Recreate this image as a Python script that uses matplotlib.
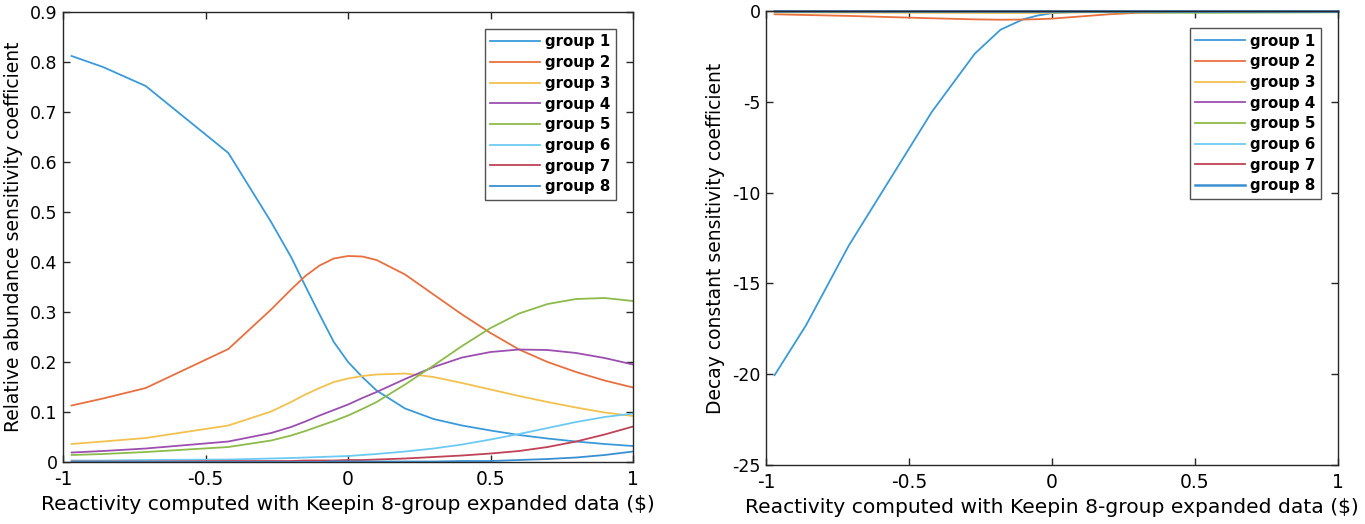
import matplotlib
matplotlib.use("Agg")
import matplotlib.pyplot as plt

plt.rcParams['font.family'] = ['DejaVu Sans']

# ---- relative abundance sensitivity (left panel) ----
x_ab = [-0.97, -0.86, -0.71, -0.42, -0.27, -0.2, -0.15, -0.1, -0.05, 0.0,
        0.05, 0.1, 0.2, 0.3, 0.4, 0.5, 0.6, 0.7, 0.8, 0.9, 1.0]
ab_g1 = [0.812, 0.790, 0.752, 0.618, 0.480, 0.410, 0.352, 0.295, 0.240, 0.200,
         0.170, 0.143, 0.107, 0.086, 0.073, 0.063, 0.054, 0.047, 0.041, 0.036, 0.032]
ab_g2 = [0.113, 0.127, 0.148, 0.226, 0.305, 0.345, 0.372, 0.393, 0.407, 0.412,
         0.411, 0.404, 0.375, 0.335, 0.295, 0.258, 0.225, 0.200, 0.180, 0.163, 0.149]
ab_g3 = [0.036, 0.041, 0.048, 0.073, 0.101, 0.120, 0.135, 0.148, 0.160, 0.167,
         0.172, 0.175, 0.177, 0.170, 0.158, 0.145, 0.132, 0.120, 0.109, 0.099, 0.092]
ab_g4 = [0.019, 0.022, 0.027, 0.041, 0.058, 0.070, 0.081, 0.093, 0.104, 0.115,
         0.128, 0.140, 0.166, 0.190, 0.209, 0.220, 0.225, 0.224, 0.218, 0.208, 0.195]
ab_g5 = [0.014, 0.016, 0.020, 0.030, 0.043, 0.053, 0.062, 0.072, 0.082, 0.093,
         0.106, 0.120, 0.155, 0.193, 0.232, 0.268, 0.297, 0.316, 0.326, 0.328, 0.322]
ab_g6 = [0.003, 0.003, 0.004, 0.005, 0.007, 0.008, 0.009, 0.010, 0.011, 0.012,
         0.014, 0.016, 0.021, 0.027, 0.035, 0.045, 0.056, 0.068, 0.080, 0.090, 0.097]
ab_g7 = [0.001, 0.001, 0.001, 0.002, 0.002, 0.002, 0.003, 0.003, 0.003, 0.004,
         0.004, 0.005, 0.007, 0.010, 0.013, 0.017, 0.022, 0.030, 0.041, 0.055, 0.071]
ab_g8 = [0.000, 0.000, 0.000, 0.000, 0.000, 0.000, 0.000, 0.000, 0.001, 0.001,
         0.001, 0.001, 0.001, 0.001, 0.002, 0.002, 0.004, 0.006, 0.009, 0.014, 0.021]

# ---- decay constant sensitivity (right panel) ----
x_dc = [-0.97, -0.86, -0.71, -0.42, -0.27, -0.18, -0.1, -0.05, 0.0,
        0.1, 0.2, 0.3, 0.5, 0.7, 1.0]
dc_g1 = [-20.05, -17.3, -12.9, -5.55, -2.35, -1.03, -0.45, -0.25, -0.12,
         -0.04, -0.02, -0.01, 0.0, 0.0, 0.0]
dc_g2 = [-0.18, -0.22, -0.27, -0.40, -0.46, -0.48, -0.47, -0.45, -0.42,
         -0.30, -0.18, -0.10, -0.05, -0.03, -0.02]
dc_g3 = [-0.08, -0.08, -0.09, -0.10, -0.11, -0.11, -0.11, -0.11, -0.10,
         -0.08, -0.06, -0.05, -0.03, -0.02, -0.01]
dc_g4 = [-0.02, -0.02, -0.02, -0.03, -0.03, -0.04, -0.04, -0.04, -0.05,
         -0.05, -0.06, -0.06, -0.05, -0.04, -0.03]
dc_g5 = [-0.01, -0.01, -0.01, -0.02, -0.02, -0.03, -0.03, -0.03, -0.04,
         -0.05, -0.07, -0.08, -0.10, -0.09, -0.07]
dc_g6 = [0.0, 0.0, 0.0, 0.0, 0.0, 0.0, 0.0, 0.0, -0.01,
         -0.01, -0.01, -0.02, -0.03, -0.04, -0.04]
dc_g7 = [0.0, 0.0, 0.0, 0.0, 0.0, 0.0, 0.0, 0.0, 0.0,
         0.0, 0.0, -0.01, -0.01, -0.02, -0.03]
dc_g8 = [0.0, 0.0, 0.0, 0.0, 0.0, 0.0, 0.0, 0.0, 0.0,
         0.0, 0.0, 0.0, 0.0, 0.0, 0.0]

labels = [f"group {i}" for i in range(1, 9)]
colors = ["#3a9ad9", "#e8703f", "#f2c14e", "#9b4fb0", "#8dbb4a",
          "#6ccaf2", "#c04257", "#3a8fd0"]

x_ticks = [-1, -0.5, 0, 0.5, 1]
x_ticklabels = ["-1", "-0.5", "0", "0.5", "1"]
ab_ticks = [0, 0.1, 0.2, 0.3, 0.4, 0.5, 0.6, 0.7, 0.8, 0.9]
ab_ticklabels = ["0", "0.1", "0.2", "0.3", "0.4", "0.5", "0.6", "0.7", "0.8", "0.9"]
dc_ticks = [-25, -20, -15, -10, -5, 0]
dc_ticklabels = ["-25", "-20", "-15", "-10", "-5", "0"]

xlabel = "Reactivity computed with Keepin 8-group expanded data ($)"

fig = plt.figure(figsize=(13.65, 5.24), dpi=100)
ax1 = fig.add_axes([0.0462, 0.1183, 0.4176, 0.8588])
ax2 = fig.add_axes([0.5612, 0.1126, 0.4190, 0.8664])

ab_series = [ab_g1, ab_g2, ab_g3, ab_g4, ab_g5, ab_g6, ab_g7, ab_g8]
dc_series = [dc_g1, dc_g2, dc_g3, dc_g4, dc_g5, dc_g6, dc_g7, dc_g8]

for ys, c, lab in zip(ab_series, colors, labels):
    ax1.plot(x_ab, ys, color=c, lw=1.3, label=lab)
for ys, c, lab in zip(dc_series, colors, labels):
    lw = 1.8 if lab == "group 8" else 1.3
    ax2.plot(x_dc, ys, color=c, lw=lw, label=lab, clip_on=False)


def style(ax, yt, ytl, ylim, ylabel):
    ax.set_xlim(-1, 1)
    ax.set_ylim(*ylim)
    ax.set_xticks(x_ticks)
    ax.set_xticklabels(x_ticklabels)
    ax.set_yticks(yt)
    ax.set_yticklabels(ytl)
    ax.tick_params(direction="in", top=True, right=True, length=5,
                   width=1.0, color="#262626")
    ax.tick_params(axis="x", labelsize=13.5, pad=6)
    ax.tick_params(axis="y", labelsize=12.5, pad=4)
    for s in ax.spines.values():
        s.set_color("#262626")
        s.set_linewidth(1.0)
    ax.set_xlabel(xlabel, fontsize=14.6, labelpad=4)
    ax.set_ylabel(ylabel, fontsize=13.5, labelpad=5)
    leg = ax.legend(loc="upper right", fontsize=10.8, frameon=True,
                    fancybox=False, edgecolor="#262626", handlelength=3.3,
                    handletextpad=0.35, labelspacing=0.38, borderpad=0.35,
                    borderaxespad=1.15)
    leg.get_frame().set_linewidth(1.0)
    for t in leg.get_texts():
        t.set_fontweight("semibold")


style(ax1, ab_ticks, ab_ticklabels, (0, 0.9), "Relative abundance sensitivity coefficient")
style(ax2, dc_ticks, dc_ticklabels, (-25, 0), "Decay constant sensitivity coefficient")

fig.savefig("out.png", dpi=100)
